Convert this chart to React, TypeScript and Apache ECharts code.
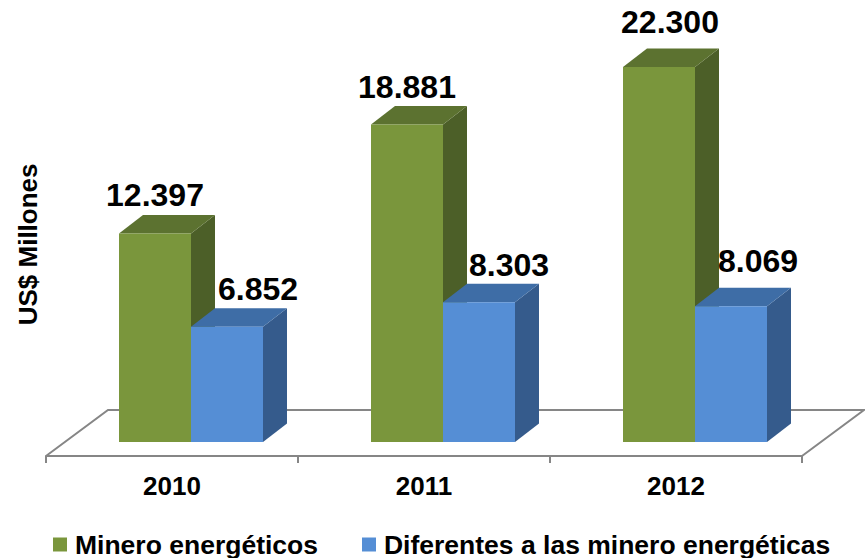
import React, { useEffect, useRef } from "react";
import * as echarts from "echarts";

const years = ["2010", "2011", "2012"];
const seriesNames = ["Minero energéticos", "Diferentes a las minero energéticas"];
const minero = [12397, 18881, 22300];
const diferentes = [6852, 8303, 8069];
const axisName = "US$ Millones";

const FONT = "'Liberation Sans', Arial, sans-serif";
const BAR_W = 72;
const PAIR_SHIFT = 19;
const DX = 24;
const DY = 18.5;
const mineroLabelNudge = [[0, -39], [0, -37], [11, -45]];
const diferentesLabelNudge = [[31, -38], [30, -37], [27, -45]];

const fmt = (v: number) => String(v).replace(/(\d)(\d{3})$/, "$1.$2");

function barItem(
  slot: number,
  colors: { front: string; top: string; side: string },
  nudges: number[][]
) {
  return (params: any, api: any) => {
    const idx = api.value(0);
    const val = api.value(1);
    const top = api.coord([idx, val]);
    const base = api.coord([idx, 0]);
    const x0 = top[0] + PAIR_SHIFT + (slot === 0 ? -BAR_W : 0);
    const x1 = x0 + BAR_W;
    const yT = top[1];
    const yB = base[1];
    const n = nudges[params.dataIndex];
    return {
      type: "group",
      children: [
        {
          type: "polygon",
          shape: { points: [[x1, yT], [x1 + DX, yT - DY], [x1 + DX, yB - DY], [x1, yB]] },
          style: { fill: colors.side },
        },
        {
          type: "polygon",
          shape: { points: [[x0, yT], [x0 + DX, yT - DY], [x1 + DX, yT - DY], [x1, yT]] },
          style: { fill: colors.top },
        },
        {
          type: "rect",
          shape: { x: x0, y: yT, width: BAR_W, height: yB - yT },
          style: { fill: colors.front },
        },
        {
          type: "text",
          style: {
            x: (x0 + x1) / 2 + n[0],
            y: yT + n[1],
            text: fmt(val),
            fill: "#000",
            font: `bold 32px ${FONT}`,
            align: "center",
            verticalAlign: "middle",
          },
        },
      ],
    };
  };
}

export default function App() {
  const ref = useRef<HTMLDivElement>(null);
  useEffect(() => {
    const chart = echarts.init(ref.current!, null, { renderer: "svg" });
    chart.setOption({
      animation: false,
      backgroundColor: "#fff",
      textStyle: { fontFamily: FONT },
      grid: { left: 46, right: 63, top: 46.8, bottom: 116, outerBoundsMode: "none" },
      graphic: [
        {
          type: "polyline",
          z: 0,
          shape: { points: [[46, 456], [108, 410], [864, 410], [802, 456]] },
          style: { stroke: "#868686", lineWidth: 2, fill: "none" },
        },
      ],
      legend: {
        left: 53,
        top: 531,
        padding: 0,
        icon: "rect",
        itemWidth: 14,
        itemHeight: 14,
        itemGap: 44,
        data: seriesNames,
        textStyle: {
          fontFamily: FONT,
          fontSize: 26.5,
          lineHeight: 27,
          fontWeight: "bold",
          color: "#000",
          padding: [0, 0, 0, 3],
        },
      },
      xAxis: {
        type: "category",
        data: years,
        offset: 14,
        axisLine: { onZero: false, lineStyle: { color: "#868686", width: 2 } },
        axisTick: { show: true, length: 7, alignWithLabel: false, lineStyle: { color: "#868686", width: 2 } },
        axisLabel: {
          margin: 17,
          fontFamily: FONT,
          fontSize: 26,
          fontWeight: "bold",
          color: "#000",
        },
      },
      yAxis: {
        type: "value",
        min: 0,
        max: 23500,
        name: axisName,
        nameLocation: "middle",
        nameGap: 5,
        nameRotate: 90,
        nameTextStyle: { fontFamily: FONT, fontSize: 26, fontWeight: "bold", color: "#000" },
        axisLine: { show: false },
        axisTick: { show: false },
        axisLabel: { show: false },
        splitLine: { show: false },
      },
      series: [
        {
          type: "custom",
          name: seriesNames[0],
          clip: false,
          itemStyle: { color: "#7A963C" },
          data: minero.map((v, i) => [i, v]),
          encode: { x: 0, y: 1 },
          renderItem: barItem(0, { front: "#7A963C", top: "#5C7230", side: "#4C5F28" }, mineroLabelNudge),
        },
        {
          type: "custom",
          name: seriesNames[1],
          clip: false,
          itemStyle: { color: "#558ED5" },
          data: diferentes.map((v, i) => [i, v]),
          encode: { x: 0, y: 1 },
          renderItem: barItem(1, { front: "#558ED5", top: "#3E6DA6", side: "#355B8C" }, diferentesLabelNudge),
        },
      ],
    });
    return () => chart.dispose();
  }, []);
  return <div ref={ref} style={{ position: "absolute", left: 0, top: 0, width: 865, height: 558 }} />;
}
